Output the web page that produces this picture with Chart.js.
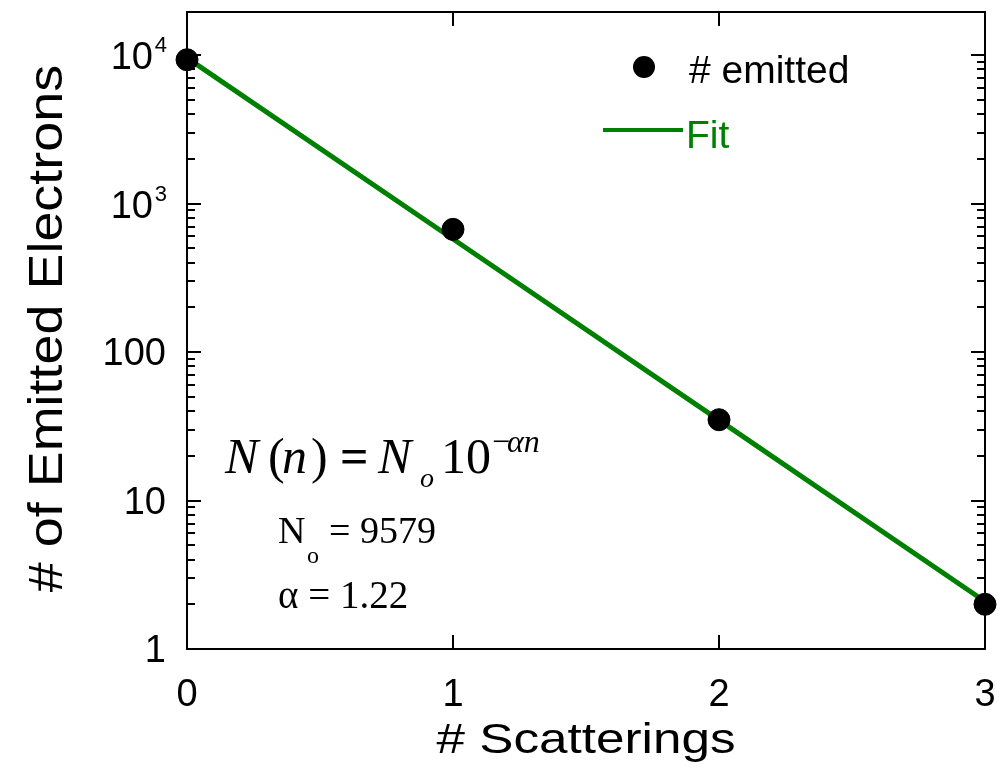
<!DOCTYPE html>
<html>
<head>
<meta charset="utf-8">
<script src="https://cdn.jsdelivr.net/npm/chart.js@4/dist/chart.umd.min.js"></script>
<style>
  html, body { margin: 0; padding: 0; background: #fff; }
  canvas { display: block; }
</style>
</head>
<body>
<canvas id="scatterChart" width="1007" height="776"></canvas>
<script>
// electrons emitted vs. number of scatterings
var scatterings = [0, 1, 2, 3];
var emitted = [9300, 670, 35, 2];
var fitValues = [9579, 577, 34.8, 2.09];

var xTickValues = [0, 1, 2, 3];
var xTickLabels = ['0', '1', '2', '3'];
var yTickValues = [1, 10, 100, 1000, 10000];
var yTickLabels = ['1', '10', '100', '10^3', '10^4'];

var SANS = '"Liberation Sans", Arial, sans-serif';
var SERIF = '"Liberation Serif", "Times New Roman", serif';
var GREEN = '#008000';

function text(c, str, x, y, font, color, align) {
    c.font = font;
    c.fillStyle = color || '#000';
    c.textAlign = align || 'left';
    c.textBaseline = 'alphabetic';
    c.fillText(str, x, y);
}

var frame = {
    id: 'frame',
    beforeDatasetsDraw: function (chart) {
        var c = chart.ctx, a = chart.chartArea;
        var xs = chart.scales.x, ys = chart.scales.y;
        c.save();
        c.strokeStyle = '#000';
        c.lineWidth = 2;
        c.strokeRect(a.left, a.top, a.right - a.left, a.bottom - a.top);
        c.beginPath();
        // log ticks on both vertical sides, pointing in
        yTickValues.forEach(function (d) {
            for (var m = 1; m <= 9; m++) {
                var v = d * m;
                if (v > ys.max) break;
                var py = Math.round(ys.getPixelForValue(v));
                var len = m === 1 ? 14 : 8;
                c.moveTo(a.left, py); c.lineTo(a.left + len, py);
                c.moveTo(a.right, py); c.lineTo(a.right - len, py);
            }
        });
        xTickValues.forEach(function (v) {
            var px = Math.round(xs.getPixelForValue(v));
            c.moveTo(px, a.bottom); c.lineTo(px, a.bottom - 14);
            c.moveTo(px, a.top); c.lineTo(px, a.top + 14);
        });
        c.stroke();
        c.restore();
    },
    afterDraw: function (chart) {
        var c = chart.ctx, a = chart.chartArea;
        var xs = chart.scales.x, ys = chart.scales.y;
        c.save();

        // y tick labels, powers written with a raised exponent
        yTickValues.forEach(function (v, i) {
            var py = ys.getPixelForValue(v);
            var parts = yTickLabels[i].split('^');
            if (parts.length === 2) {
                text(c, parts[1], 167, py - 3, '22px ' + SANS, '#000', 'right');
                text(c, parts[0], 153, py + 14, '38px ' + SANS, '#000', 'right');
            } else {
                text(c, parts[0], 166, py + 13, '38px ' + SANS, '#000', 'right');
            }
        });

        // x tick labels
        xTickValues.forEach(function (v, i) {
            text(c, xTickLabels[i], xs.getPixelForValue(v), 706, '38px ' + SANS, '#000', 'center');
        });

        // axis titles
        c.save();
        c.translate((a.left + a.right) / 2, 753);
        c.scale(1.22, 1);
        text(c, '# Scatterings', 0, 0, '42px ' + SANS, '#000', 'center');
        c.restore();

        c.save();
        c.translate(62, (a.top + a.bottom) / 2 - 2);
        c.rotate(-Math.PI / 2);
        c.scale(1.1, 1);
        text(c, '# of Emitted Electrons', 0, 0, '49px ' + SANS, '#000', 'center');
        c.restore();

        // legend
        var ds = chart.data.datasets;
        c.beginPath();
        c.arc(644, 67, 11, 0, Math.PI * 2);
        c.fillStyle = '#000';
        c.fill();
        text(c, ds[0].label, 689, 83, '39px ' + SANS, '#000');
        c.beginPath();
        c.moveTo(603, 130); c.lineTo(683, 130);
        c.strokeStyle = GREEN;
        c.lineWidth = 4;
        c.stroke();
        text(c, ds[1].label, 686, 148, '39px ' + SANS, GREEN);

        // fit equation
        var big = '50px ' + SERIF, bigI = 'italic 50px ' + SERIF;
        text(c, 'N', 225, 473, bigI);
        text(c, '(', 268, 473, big);
        text(c, 'n', 282, 473, bigI);
        text(c, ')', 311, 473, big);
        text(c, '=', 340, 473, 'bold 50px ' + SERIF);
        text(c, 'N', 378, 473, bigI);
        text(c, 'o', 420, 487, 'italic 28px ' + SERIF);
        text(c, '10', 441, 473, big);
        text(c, '\u2212', 492, 452, '32px ' + SERIF);
        text(c, '\u03B1n', 507, 452, 'italic 32px ' + SERIF);

        text(c, 'N', 278, 543, '38px ' + SERIF);
        text(c, 'o', 307, 563, '24px ' + SERIF);
        text(c, '= 9579', 329, 543, '38px ' + SERIF);
        text(c, '\u03B1 = 1.22', 278, 608, '39px ' + SERIF);

        c.restore();
    }
};

var ctx = document.getElementById('scatterChart').getContext('2d');

var chart = new Chart(ctx, {
    type: 'scatter',
    data: {
        datasets: [{
            label: '# emitted',
            data: scatterings.map(function (n, i) { return { x: n, y: emitted[i] }; }),
            backgroundColor: '#000',
            borderColor: '#000',
            pointRadius: 11,
            pointHoverRadius: 11,
            showLine: false,
            clip: false,
            order: 0
        }, {
            label: 'Fit',
            data: scatterings.map(function (n, i) { return { x: n, y: fitValues[i] }; }),
            borderColor: GREEN,
            borderWidth: 5,
            pointRadius: 0,
            showLine: true,
            fill: false,
            clip: false,
            order: 1
        }]
    },
    options: {
        responsive: false,
        animation: false,
        devicePixelRatio: 1,
        layout: { padding: { left: 187, right: 22, top: 10, bottom: 127 } },
        plugins: { legend: { display: false }, tooltip: { enabled: false } },
        scales: {
            x: { type: 'linear', min: 0, max: 3, display: false },
            y: { type: 'logarithmic', min: 1, max: 19500, display: false }
        }
    },
    plugins: [frame]
});
</script>
</body>
</html>
